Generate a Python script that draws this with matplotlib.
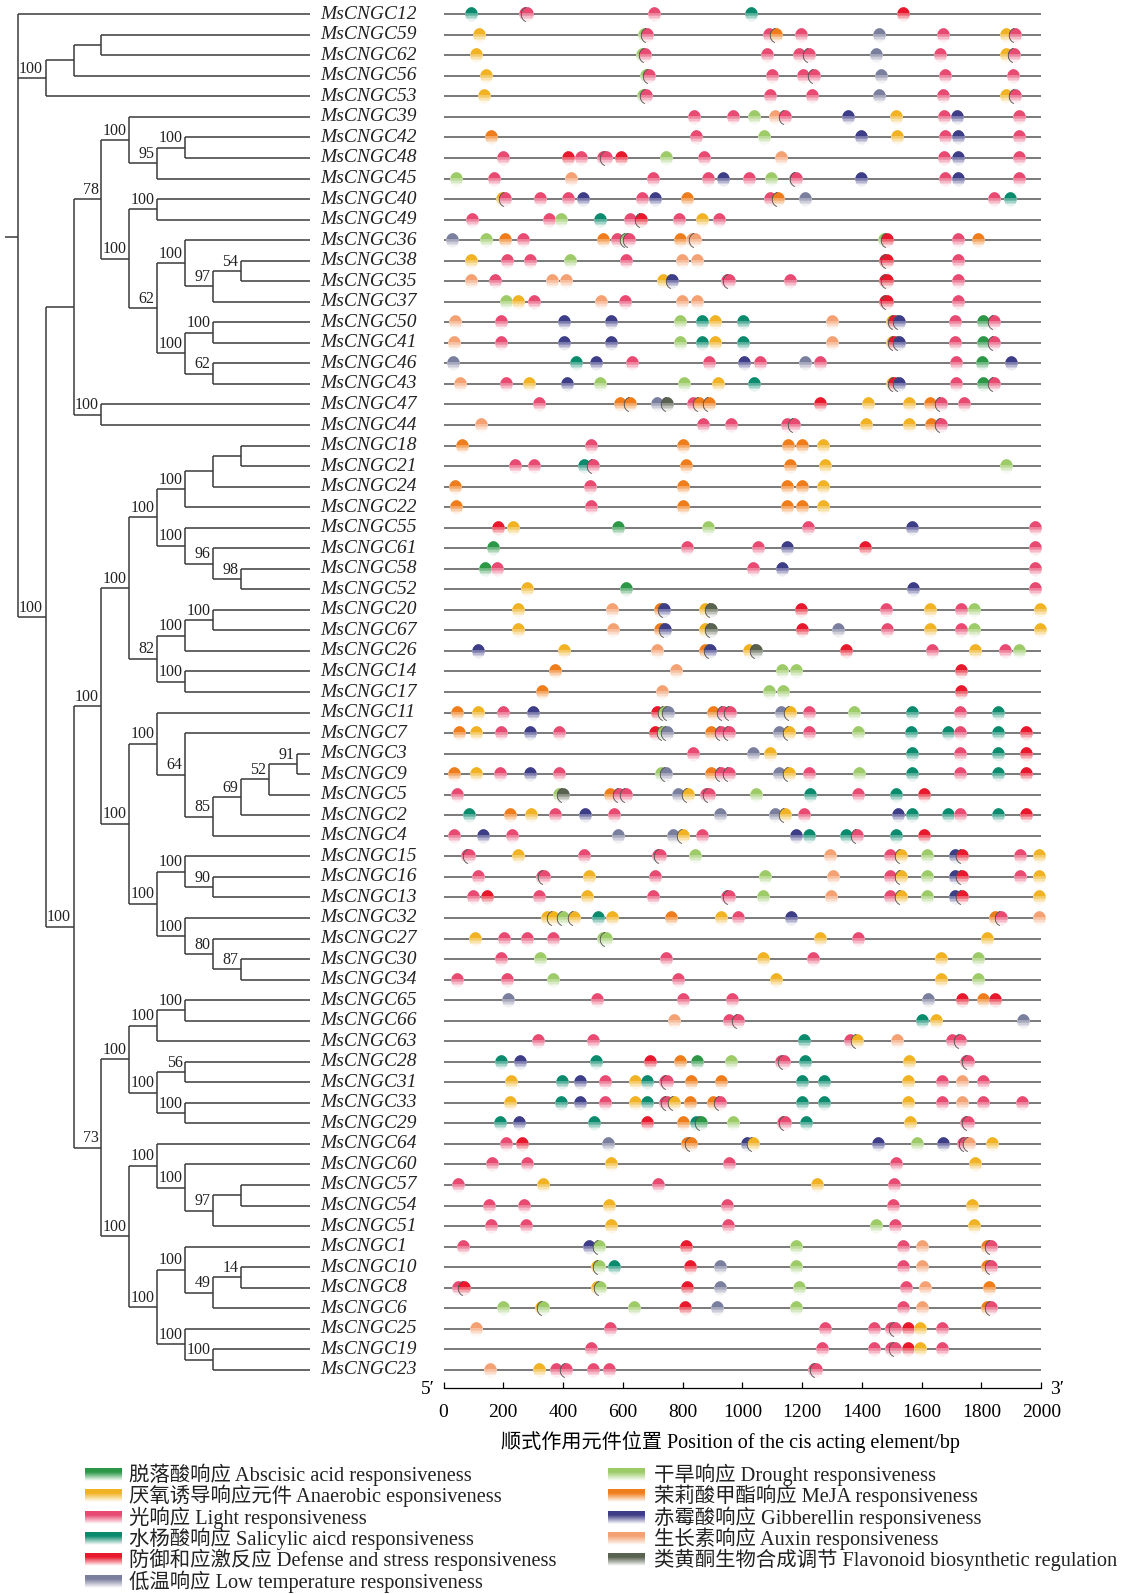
import numpy as np
import matplotlib
matplotlib.use("Agg")
import matplotlib.pyplot as plt
from matplotlib.path import Path
from matplotlib.colors import to_rgb

plt.rcParams['font.family'] = ['Liberation Serif', 'Noto Sans CJK SC', 'DejaVu Serif']

# MsCNGC numbers, top to bottom
order = [12, 59, 62, 56, 53, 39, 42, 48, 45, 40, 49, 36, 38, 35, 37, 50, 41, 46, 43, 47, 44,
         18, 21, 24, 22, 55, 61, 58, 52, 20, 67, 26, 14, 17, 11, 7, 3, 9, 5, 2, 4, 15, 16, 13,
         32, 27, 30, 34, 65, 66, 63, 28, 31, 33, 29, 64, 60, 57, 54, 51, 1, 10, 8, 6, 25, 19, 23]

# (bootstrap, children); ints are leaves
tree = ('', [
    12,
    ('100', [('', [('', [59, 62]), 56]), 53]),
    ('100', [
        ('', [
            ('78', [
                ('100', [39, ('95', [('100', [42, 48]), 45])]),
                ('100', [('100', [40, 49]),
                         ('62', [('100', [36, ('97', [('54', [38, 35]), 37])]),
                                 ('100', [('100', [50, 41]), ('62', [46, 43])])])]),
            ]),
            ('100', [47, 44]),
        ]),
        ('100', [
            ('100', [
                ('100', [
                    ('100', [('100', [('', [('', [18, 21]), 24]), 22]),
                             ('100', [55, ('96', [61, ('98', [58, 52])])])]),
                    ('82', [('100', [('100', [20, 67]), 26]), ('100', [14, 17])]),
                ]),
                ('100', [
                    ('100', [11, ('64', [7, ('85', [('69', [('52', [('91', [3, 9]), 5]), 2]), 4])])]),
                    ('100', [('100', [15, ('90', [16, 13])]),
                             ('100', [32, ('80', [27, ('87', [30, 34])])])]),
                ]),
            ]),
            ('73', [
                ('100', [('100', [('100', [65, 66]), 63]),
                         ('100', [('56', [28, 31]), ('100', [33, 29])])]),
                ('100', [('100', [64, ('100', [60, ('97', [('', [57, 54]), 51])])]),
                         ('100', [('100', [1, ('49', [('14', [10, 8]), 6])]),
                                  ('100', [25, ('100', [19, 23])])])]),
            ]),
        ]),
    ]),
])

# cis-element positions (bp) per gene
abscisic = {50: [1804], 41: [1804], 46: [1803], 43: [1804], 55: [585], 61: [165], 58: [138],
            52: [610], 28: [848], 29: [861]}
anaerobic = {59: [120, 1883], 62: [108, 1883], 56: [143], 53: [134, 1883], 39: [1513], 42: [1518],
             40: [196], 49: [864], 38: [92], 35: [733], 37: [250], 50: [908, 1500], 41: [908, 1500],
             43: [287, 918, 1500], 47: [1422, 1559], 44: [1415, 1559], 18: [1269], 21: [1278],
             24: [1269], 22: [1269], 55: [234], 52: [280], 20: [249, 874, 1629, 1995],
             67: [249, 876, 1629, 1995], 26: [402, 1023, 1778], 11: [117, 1159], 7: [109, 1156],
             3: [1093], 9: [108, 1156], 5: [819], 2: [292, 1142], 4: [802], 15: [248, 1530, 1993],
             16: [487, 1530, 1993], 13: [479, 1530, 1993], 32: [345, 366, 438, 563, 929],
             27: [104, 1260, 1817], 30: [1070, 1666], 34: [1111, 1666], 66: [1648], 63: [1385],
             28: [1556], 31: [225, 641, 1554], 33: [221, 640, 772, 1554], 29: [1560], 64: [1036, 1837],
             60: [562, 1780], 57: [334, 1250], 54: [554, 1770], 51: [560, 1775], 10: [512], 8: [515],
             6: [325], 25: [1596], 19: [1596], 23: [320]}
light = {12: [272, 280, 706], 59: [680, 1089, 1197, 1672, 1912], 62: [673, 1082, 1188, 1223, 1662, 1909],
         56: [686, 1099, 1203, 1240, 1677, 1905], 53: [676, 1093, 1234, 1672, 1912],
         39: [839, 969, 1144, 1675, 1925], 42: [845, 1679, 1925], 48: [199, 460, 534, 545, 872, 1675, 1925],
         45: [169, 700, 886, 1023, 1175, 1181, 1679, 1925], 40: [207, 324, 415, 664, 1093, 1842],
         49: [95, 352, 623, 787, 923], 36: [267, 581, 620, 1722], 38: [212, 291, 611, 1721],
         35: [172, 947, 955, 1159, 1721], 37: [304, 608, 1721], 50: [191, 1713, 1841], 41: [191, 1713, 1841],
         46: [632, 890, 1059, 1259, 1714], 43: [209, 1714, 1841], 47: [321, 836, 1664, 1743],
         44: [868, 962, 1148, 1174, 1664], 18: [495], 21: [240, 302, 500], 24: [491], 22: [495],
         55: [1221, 1978], 61: [816, 1053, 1978], 58: [178, 1034, 1978], 52: [1978], 20: [1481, 1731],
         67: [1483, 1731], 26: [1633, 1880], 11: [199, 935, 960, 1224, 1728],
         7: [192, 387, 928, 955, 1223, 1728], 3: [835, 1728], 9: [190, 386, 928, 955, 1223, 1728],
         5: [46, 587, 612, 880, 888, 1388], 2: [374, 569, 1207, 1728], 4: [34, 229, 866, 1385],
         15: [80, 87, 469, 718, 725, 1494, 1928], 16: [115, 329, 336, 708, 1494, 1928],
         13: [100, 319, 700, 948, 955, 1494], 32: [986, 1866], 27: [204, 279, 367, 1388],
         30: [192, 745, 1236], 34: [46, 211, 786], 65: [514, 801, 966], 66: [957, 986],
         63: [317, 500, 1359, 1701, 1728], 28: [1130, 1138, 1747, 1755], 31: [542, 740, 748, 1667, 1805],
         33: [541, 740, 748, 924, 1667, 1805, 1935], 29: [1135, 1142, 1747, 1755], 64: [208, 1737, 1745],
         60: [162, 279, 957, 1514], 57: [50, 719, 1508], 54: [151, 269, 947, 1504],
         51: [158, 275, 952, 1510], 1: [65, 1537, 1833], 10: [1537, 1833], 8: [49, 1547],
         6: [1537, 1833], 25: [556, 1277, 1442, 1499, 1510, 1668], 19: [492, 1267, 1442, 1499, 1510, 1668],
         23: [378, 411, 499, 553, 1240, 1247]}
salicylic = {12: [93, 1028], 40: [1896], 49: [525], 50: [866, 1001], 41: [866, 1001], 46: [445],
             43: [1039], 21: [469], 11: [1567, 1855], 7: [1565, 1688, 1855], 3: [1567, 1855],
             9: [1567, 1855], 5: [1227, 1514], 2: [86, 1567, 1688, 1855], 4: [1223, 1346, 1513],
             32: [516], 66: [1601], 63: [1207], 28: [194, 511, 1209], 31: [395, 682, 1201, 1273],
             33: [392, 681, 1201, 1273], 29: [188, 504, 845, 1214], 10: [569]}
defense = {12: [1537], 48: [415, 593], 49: [662], 36: [1483], 38: [1477, 1485], 35: [1477, 1485],
           37: [1477, 1485], 50: [1508], 41: [1508], 43: [1508], 47: [1259], 55: [184], 61: [1409],
           20: [1197], 67: [1198], 26: [1348], 14: [1730], 17: [1730], 11: [715], 7: [707, 1949],
           3: [1949], 9: [1949], 5: [1609], 2: [1949], 4: [1609], 15: [1735], 16: [1735],
           13: [146, 1735], 65: [1734, 1846], 28: [690], 29: [681], 64: [262], 1: [810], 10: [824],
           8: [68, 816], 6: [808], 25: [1554], 19: [1554]}
low_temp = {59: [1458], 62: [1447], 56: [1464], 53: [1458], 40: [1209], 36: [29], 46: [33, 1211],
            47: [716], 67: [1319], 11: [750, 1128], 7: [747, 1124], 3: [1034], 9: [743, 1124],
            5: [786], 2: [924, 1109], 4: [583, 769], 65: [216, 1620], 66: [1938], 64: [549],
            10: [926], 8: [926], 6: [915]}
drought = {59: [672], 62: [665], 56: [678], 53: [668], 39: [1040], 42: [1074], 48: [744],
           45: [42, 1095], 49: [392], 36: [141, 612, 1474], 38: [424], 37: [209], 50: [793], 41: [793],
           43: [524, 804], 21: [1883], 55: [886], 20: [1776], 67: [1776], 26: [1925], 14: [1132, 1178],
           17: [1089, 1136], 11: [737, 1375], 7: [733, 1388], 9: [727, 1389], 5: [386, 1047],
           15: [840, 1619], 16: [1076, 1619], 13: [1070, 1619], 32: [399], 27: [535, 545],
           30: [324, 1787], 34: [366, 1787], 28: [961], 29: [969], 64: [1583], 51: [1447],
           1: [520, 1180], 10: [520, 1180], 8: [523, 1190], 6: [198, 332, 638, 1180]}
meja = {59: [1113], 42: [158], 40: [816, 1119], 36: [207, 535, 793, 1788], 47: [590, 625, 855, 890, 1628],
        44: [1630], 18: [62, 803, 1152, 1201], 21: [812, 1160], 24: [38, 803, 1151, 1201],
        22: [42, 803, 1151, 1201], 20: [723], 67: [724], 26: [874], 14: [374], 17: [329], 11: [45, 902],
        7: [51, 895], 9: [36, 895], 5: [556], 2: [221], 32: [761, 1846], 65: [1804], 28: [791],
        31: [827, 928], 33: [826, 901], 29: [800], 64: [815, 828], 1: [1817], 10: [1817], 8: [1824],
        6: [1817]}
gibberellin = {39: [1354, 1718], 42: [1397, 1723], 48: [1721], 45: [934, 1397, 1723], 40: [466, 707],
               35: [766], 50: [403, 562, 1524], 41: [403, 562, 1524], 46: [511, 1007, 1899], 43: [413, 1524],
               55: [1569], 61: [1149], 58: [1132], 52: [1571], 20: [737], 67: [740], 26: [117, 893],
               11: [298], 7: [290], 9: [288], 2: [473, 1521], 4: [133, 1178], 15: [1710], 16: [1710],
               13: [1710], 32: [1163], 28: [257], 31: [458], 33: [457], 29: [251], 64: [1014, 1455, 1672],
               1: [487]}
auxin = {39: [1109], 48: [1130], 45: [427], 36: [833, 841], 38: [799, 849], 35: [92, 362, 409],
         37: [528, 798, 847], 50: [37, 1301], 41: [34, 1301], 43: [55], 44: [124], 20: [565], 67: [566],
         26: [716], 14: [777], 17: [732], 15: [1294], 16: [1304], 13: [1296], 32: [1993], 66: [772],
         63: [1517], 31: [1734], 33: [1734], 64: [1758], 1: [1600], 10: [1600], 8: [1612], 6: [1600],
         25: [108], 23: [157]}
flavonoid = {47: [747], 20: [895], 67: [895], 26: [1047], 5: [399]}

left_legend = [
    ('脱落酸响应 Abscisic acid responsiveness', '#2b9747', abscisic),
    ('厌氧诱导响应元件 Anaerobic esponsiveness', '#f1b324', anaerobic),
    ('光响应 Light responsiveness', '#e84a72', light),
    ('水杨酸响应 Salicylic aicd responsiveness', '#0b8b6d', salicylic),
    ('防御和应激反应 Defense and stress responsiveness', '#e8192d', defense),
    ('低温响应 Low temperature responsiveness', '#7b7f9e', low_temp),
]
right_legend = [
    ('干旱响应 Drought responsiveness', '#9ccb68', drought),
    ('茉莉酸甲酯响应 MeJA responsiveness', '#f07d1c', meja),
    ('赤霉酸响应 Gibberellin responsiveness', '#3e3d87', gibberellin),
    ('生长素响应 Auxin responsiveness', '#f4a273', auxin),
    ('类黄酮生物合成调节 Flavonoid biosynthetic regulation', '#58624f', flavonoid),
]

W, H = 1138, 1594
fig = plt.figure(figsize=(W / 100, H / 100), dpi=100)

axis_px = 1388.3            # pixel row of the bp axis line
row0, dy = 14.2, 20.54      # first row and row spacing (px)
ylo = (axis_px - row0) / dy
yhi = -row0 / dy
bottom = 1 - axis_px / H

row = {g: i for i, g in enumerate(order)}

# ---- tree ----
tax = fig.add_axes([0, bottom, 443.5 / W, 1 - bottom])
tax.set_xlim(0, 443.5)
tax.set_ylim(ylo, yhi)
tax.axis('off')

x0, dx, tip_x = 17.7, 27.93, 310
line = dict(color='#3a3a3a', lw=1.1, solid_capstyle='butt')


def draw(node, depth):
    if isinstance(node, int):
        return row[node]
    label, kids = node
    x = x0 + dx * depth
    ys = [draw(k, depth + 1) for k in kids]
    y = sum(ys) / len(ys)
    tax.plot([x, x], [min(ys), max(ys)], **line)
    for k, yk in zip(kids, ys):
        xe = tip_x if isinstance(k, int) else x0 + dx * (depth + 1)
        tax.plot([x, xe], [yk, yk], **line)
    if label:
        tax.annotate(label, (x, y), xytext=(-2, 1), textcoords='offset points',
                     ha='right', va='bottom', fontsize=11.5, color='#222222')
    return y


root_y = draw(tree, 0)
tax.plot([5, x0], [root_y, root_y], **line)

for g in order:
    tax.text(320, row[g], f'MsCNGC{g}', fontsize=14, style='italic',
             ha='left', va='center', color='#222222')

# ---- promoter panel ----
ax = fig.add_axes([443.5 / W, bottom, (1041.2 - 443.5) / W, 1 - bottom])
ax.set_xlim(0, 2000)
ax.set_ylim(ylo, yhi)
ax.hlines(range(len(order)), 0, 2000, colors='#6e6e6e', lw=1.3, zorder=1)
for s in ('top', 'left', 'right'):
    ax.spines[s].set_visible(False)
ax.spines['bottom'].set_linewidth(0.9)
ax.set_yticks([])
ax.set_xticks(range(0, 2001, 200))
ax.tick_params(axis='x', direction='in', length=4.5, width=0.9, pad=11, labelsize=14)


def cap(cut, w=0.43, h=0.5):
    t0 = np.arcsin(np.clip(cut / h, -1, 1))
    t = np.linspace(t0, np.pi - t0, 48)
    v = np.column_stack([w * np.cos(t), h * np.sin(t)])
    return Path(np.vstack([v, v[:1]]), closed=True)


def tint(c, f):
    c = np.array(to_rgb(c))
    return tuple(c * (1 - f) + f)


shades = [(cap(-0.5), 0.9), (cap(-0.28), 0.62), (cap(-0.08), 0.32), (cap(0.1), 0.0)]
t = np.radians(np.linspace(100, 255, 30))
arc = Path(np.column_stack([0.43 * np.cos(t), 0.5 * np.sin(t)]))
ms = 10.3

sites = {g: [] for g in order}
for _, color, data in left_legend + right_legend:
    for g, ps in data.items():
        sites[g] += [(p, color) for p in ps]

for g in order:
    i = row[g]
    prev = None
    for k, (p, c) in enumerate(sorted(sites[g])):
        z = 3 + k * 0.01
        for j, (path, f) in enumerate(shades):
            ax.plot([p], [i], ls='none', marker=path, ms=ms, mfc=tint(c, f), mew=0,
                    zorder=z + j * 0.001, clip_on=False)
        if prev is not None and p - prev < 40:
            ax.plot([p], [i], ls='none', marker=arc, ms=ms, mfc='none', mec='#4a4a4a',
                    mew=0.6, zorder=z + 0.005, clip_on=False)
        prev = p

fig.text(435 / W, 1 - 1390 / H, '5′', fontsize=14, ha='right', va='center')
fig.text(1050 / W, 1 - 1390 / H, '3′', fontsize=14, ha='left', va='center')
fig.text(730 / W, 1 - 1442 / H, '顺式作用元件位置 Position of the cis acting element/bp',
         fontsize=14.5, ha='center', va='center')

# ---- legend ----
lax = fig.add_axes([0, 0, 1, 1], zorder=-1)
grad = np.linspace(0, 1, 40)
fade = np.clip((grad - 0.3) / 0.7, 0, 1)[:, None]
for items, sx, tx in ((left_legend, 85.5, 129), (right_legend, 608, 654)):
    for k, (name, color, _) in enumerate(items):
        y = 1474.6 + 21.35 * k
        img = (np.array(to_rgb(color))[None, :] * (1 - fade) + fade)[:, None, :]
        lax.imshow(img, extent=(sx, sx + 36.5, y + 6.5, y - 6.5), aspect='auto',
                   interpolation='bilinear')
        lax.text(tx, y, name, fontsize=14.7, ha='left', va='center', color='#222222')
lax.set_xlim(0, W)
lax.set_ylim(H, 0)
lax.axis('off')

fig.savefig('out.png', dpi=100)
